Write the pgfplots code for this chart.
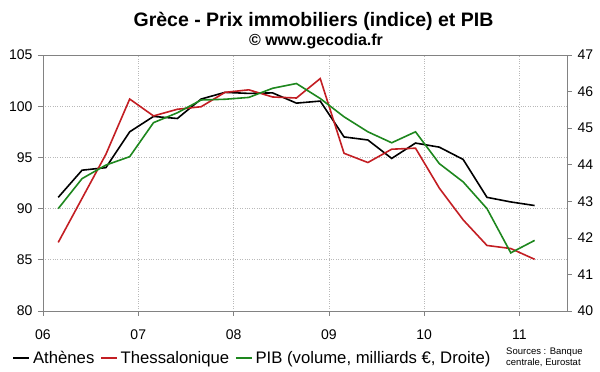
\documentclass[border=0pt]{standalone}
\usepackage{fontspec}
\setmainfont{Liberation Sans}
\usepackage{pgfplots}
\pgfplotsset{compat=1.18}
\definecolor{myred}{RGB}{195,30,35}
\definecolor{mygreen}{RGB}{30,135,30}
\definecolor{axgray}{RGB}{130,130,130}
\pgfplotstableread{
x ath the
0.16 91.1 86.7
0.41 93.75 91.0
0.66 94.0 95.3
0.91 97.5 100.7
1.16 99.0 99.05
1.41 98.8 99.7
1.66 100.7 99.95
1.91 101.35 101.35
2.16 101.25 101.6
2.41 101.3 100.9
2.66 100.3 100.8
2.91 100.5 102.7
3.16 97.0 95.4
3.41 96.7 94.5
3.66 94.9 95.8
3.91 96.4 95.9
4.16 96.0 92.0
4.41 94.8 88.9
4.66 91.1 86.4
4.91 90.65 86.1
5.16 90.3 85.05
}\prix
\pgfplotstableread{
x pib
0.16 42.8
0.41 43.62
0.66 43.99
0.91 44.22
1.16 45.15
1.41 45.42
1.66 45.77
1.91 45.79
2.16 45.84
2.41 46.09
2.66 46.22
2.91 45.81
3.16 45.31
3.41 44.90
3.66 44.60
3.91 44.90
4.16 44.03
4.41 43.53
4.66 42.80
4.91 41.59
5.16 41.93
}\pib
\begin{document}
\begin{tikzpicture}[x=1pt,y=1pt]
\useasboundingbox (0,0) rectangle (600,372);
\pgfplotsset{common/.style={
  scale only axis, width=524pt, height=256pt,
  at={(43pt,61pt)}, anchor=south west,
  xmin=0, xmax=5.5,
  axis line style={axgray},
  tick style={axgray, line width=0.6pt},
  major tick length=5pt,
  tick align=outside,
  ticklabel style={font=\fontsize{14}{16}\selectfont},
  /pgf/number format/assume math mode=true,
}}
\begin{axis}[common,
  ymin=80, ymax=105, ytick={80,85,...,105},
  xtick={0,1,2,3,4,5}, xticklabels={06,07,08,09,10,11},
  xticklabel style={yshift=-10pt},
  yticklabel style={xshift=-2pt},
  axis y line*=left, axis x line*=bottom,
  grid=major, grid style={dotted, gray!55, line width=0.6pt},
]
\addplot[black, line width=1.6pt] table[x=x,y=ath] {\prix};
\addplot[myred, line width=1.6pt] table[x=x,y=the] {\prix};
\end{axis}
\begin{axis}[common,
  ymin=40, ymax=47, ytick={40,41,...,47},
  axis y line*=right, axis x line*=top, xtick=\empty,
  yticklabel style={xshift=2pt},
  legend columns=3,
  legend style={at={(0.4,-0.184)}, anchor=center, draw=none, fill=none,
    font=\fontsize{16.7}{18}\selectfont, column sep=1pt,
    /tikz/every even column/.append style={column sep=4pt}},
  legend image code/.code={\draw[#1, line width=1.3pt] (0pt,0pt) -- (16pt,0pt);},
]
\addlegendimage{black}
\addlegendentry{Athènes}
\addlegendimage{myred}
\addlegendentry{Thessalonique}
\addplot[mygreen, line width=1.6pt] table[x=x,y=pib] {\pib};
\addlegendentry{PIB (volume, milliards €, Droite)}
\end{axis}
\node[font=\bfseries\fontsize{19.5}{22}\selectfont, anchor=base] at (313.5,345) {Grèce - Prix immobiliers (indice) et PIB};
\node[font=\bfseries\fontsize{16}{18}\selectfont, anchor=base] at (316,326) {© www.gecodia.fr};
\node[font=\fontsize{9.5}{11}\selectfont, align=left, anchor=west, inner sep=0pt] at (506,14.5) {Sources : Banque\\centrale, Eurostat};
\end{tikzpicture}
\end{document}
